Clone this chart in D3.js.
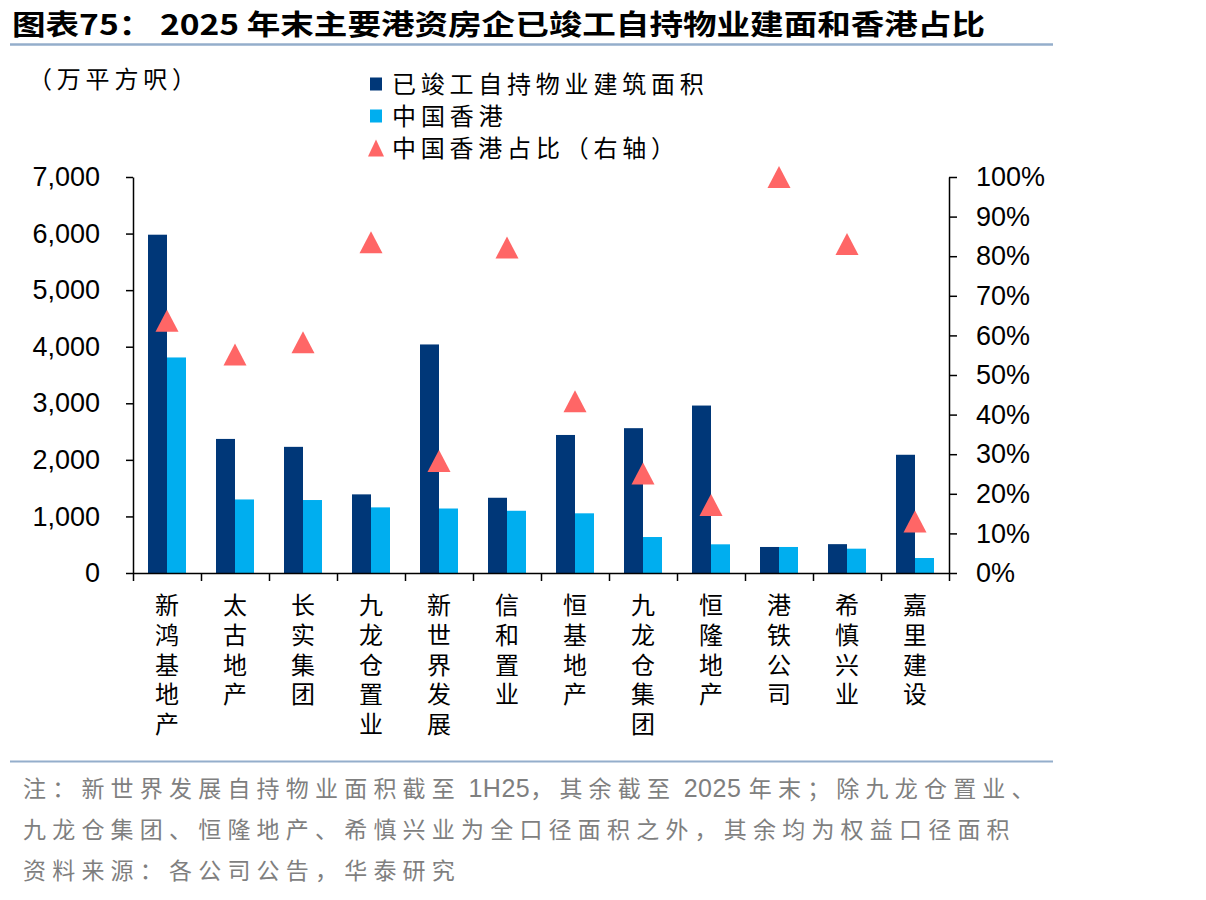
<!DOCTYPE html>
<html>
<head>
<meta charset="utf-8">
<script src="https://cdn.jsdelivr.net/npm/d3@7"></script>
<style>
  body { margin: 0; background: #fff; }
  svg { display: block; }
  .cn { font-family: "Noto Sans CJK SC", sans-serif; }
  .num { font-family: "Liberation Sans", Arial, sans-serif; }
</style>
</head>
<body>
<div id="chart"></div>
<script>
// categories and values
const categories = ["新鸿基地产", "太古地产", "长实集团", "九龙仓置业", "新世界发展", "信和置业",
                    "恒基地产", "九龙仓集团", "恒隆地产", "港铁公司", "希慎兴业", "嘉里建设"];
// 已竣工自持物业建筑面积 (万平方呎)
const totalArea = [5980, 2370, 2230, 1390, 4040, 1330, 2440, 2560, 2960, 460, 510, 2090];
// 中国香港 (万平方呎)
const hkArea = [3810, 1300, 1290, 1160, 1140, 1100, 1055, 636, 507, 460, 430, 265];
// 中国香港占比 (%)
const hkShare = [63.7, 55.2, 58.3, 83.5, 28.3, 82.2, 43.4, 25.1, 17.2, 100, 83.1, 13.0];

const leftTicks = [0, 1000, 2000, 3000, 4000, 5000, 6000, 7000];
const rightTicks = [0, 10, 20, 30, 40, 50, 60, 70, 80, 90, 100];
const legendLabels = ["已竣工自持物业建筑面积", "中国香港", "中国香港占比（右轴）"];
const titleText = "图表75：  2025 年末主要港资房企已竣工自持物业建面和香港占比";
const unitText = "（万平方呎）";
const notes = [
    "注：新世界发展自持物业面积截至 1H25，其余截至 2025 年末；除九龙仓置业、",
    "九龙仓集团、恒隆地产、希慎兴业为全口径面积之外，其余均为权益口径面积",
    "资料来源：各公司公告，华泰研究"
];

const colors = {total: "#003778", hk: "#00AEEF", share: "#FF6666"};

const width = 1206, height = 900;
const margin = {top: 177, right: 257, bottom: 327, left: 133};

const svg = d3.select("#chart").append("svg")
    .attr("width", width)
    .attr("height", height);

// title and its rule
svg.append("text")
    .attr("class", "cn")
    .attr("x", 12)
    .attr("y", 35)
    .attr("font-size", 28)
    .attr("font-weight", 700)
    .attr("textLength", 973)
    .attr("lengthAdjust", "spacingAndGlyphs")
    .text(titleText);

svg.append("line")
    .attr("x1", 10).attr("x2", 1053)
    .attr("y1", 44.5).attr("y2", 44.5)
    .attr("stroke", "#94AECB")
    .attr("stroke-width", 2.5);

// scales
const x = d3.scaleBand()
    .domain(categories)
    .range([margin.left, width - margin.right])
    .paddingInner(0)
    .paddingOuter(0);

const xSub = d3.scaleBand()
    .domain(["total", "hk"])
    .range([0, x.bandwidth()])
    .paddingInner(0)
    .paddingOuter(0.79);

const yLeft = d3.scaleLinear()
    .domain([0, 7000])
    .range([height - margin.bottom, margin.top]);

const yRight = d3.scaleLinear()
    .domain([0, 100])
    .range([height - margin.bottom, margin.top]);

// bars
const rows = categories.map((c, i) => ({name: c, total: totalArea[i], hk: hkArea[i], share: hkShare[i]}));

const groups = svg.selectAll(".grp")
    .data(rows)
    .enter()
    .append("g")
    .attr("transform", d => `translate(${x(d.name)},0)`);

groups.append("rect")
    .attr("x", xSub("total"))
    .attr("width", xSub.bandwidth())
    .attr("y", d => yLeft(d.total))
    .attr("height", d => yLeft(0) - yLeft(d.total))
    .attr("fill", colors.total);

groups.append("rect")
    .attr("x", xSub("hk"))
    .attr("width", xSub.bandwidth())
    .attr("y", d => yLeft(d.hk))
    .attr("height", d => yLeft(0) - yLeft(d.hk))
    .attr("fill", colors.hk);

// triangle markers (right axis)
function triangle(cx, cy, w, h) {
    return `M${cx},${cy - h / 2}L${cx + w / 2},${cy + h / 2}L${cx - w / 2},${cy + h / 2}Z`;
}

svg.selectAll(".tri")
    .data(rows)
    .enter()
    .append("path")
    .attr("d", d => triangle(x(d.name) + x.bandwidth() / 2, yRight(d.share), 23, 22))
    .attr("fill", colors.share);

// left axis
svg.append("g")
    .attr("transform", `translate(${margin.left},0)`)
    .call(d3.axisLeft(yLeft).tickValues(leftTicks).tickSize(7).tickSizeOuter(0)
        .tickPadding(26).tickFormat(d3.format(",")))
    .call(g => g.select(".domain").attr("stroke", "#000").attr("stroke-width", 1.5))
    .call(g => g.selectAll(".tick line").attr("stroke", "#000").attr("stroke-width", 1.5))
    .call(g => g.selectAll(".tick text")
        .attr("class", "num")
        .attr("font-size", 27)
        .attr("fill", "#000"));

// right axis
svg.append("g")
    .attr("transform", `translate(${width - margin.right},0)`)
    .call(d3.axisRight(yRight).tickValues(rightTicks).tickSize(8).tickSizeOuter(0)
        .tickPadding(19).tickFormat(d => d + "%"))
    .call(g => g.select(".domain").attr("stroke", "#000").attr("stroke-width", 1.5))
    .call(g => g.selectAll(".tick line").attr("stroke", "#000").attr("stroke-width", 1.5))
    .call(g => g.selectAll(".tick text")
        .attr("class", "num")
        .attr("font-size", 27)
        .attr("fill", "#000"));

// bottom axis: ticks at the category boundaries
const xEdge = d3.scaleLinear()
    .domain([0, categories.length])
    .range([margin.left, width - margin.right]);

svg.append("g")
    .attr("transform", `translate(0,${height - margin.bottom})`)
    .call(d3.axisBottom(xEdge).tickValues(d3.range(categories.length + 1))
        .tickSize(8).tickSizeOuter(0).tickFormat(""))
    .call(g => g.select(".domain").attr("stroke", "#000").attr("stroke-width", 1.5))
    .call(g => g.selectAll(".tick line").attr("stroke", "#000").attr("stroke-width", 1.5));

// vertical category labels (one text each, written top to bottom)
svg.selectAll(".cat")
    .data(categories)
    .enter()
    .append("text")
    .attr("class", "cn")
    .attr("x", d => x(d) + x.bandwidth() / 2)
    .attr("y", 593)
    .attr("writing-mode", "vertical-rl")
    .style("letter-spacing", "5.7px")
    .attr("font-size", 24)
    .attr("fill", "#000")
    .text(d => d);

// unit label
svg.append("text")
    .attr("class", "cn")
    .attr("x", 28)
    .attr("y", 88)
    .attr("font-size", 24)
    .attr("textLength", 168)
    .attr("lengthAdjust", "spacing")
    .text(unitText);

// legend
const legend = svg.append("g").attr("transform", "translate(370,0)");
const legendY = [84, 116, 148];

legend.append("rect")
    .attr("x", 0).attr("y", legendY[0] - 6.5)
    .attr("width", 12).attr("height", 13)
    .attr("fill", colors.total);

legend.append("rect")
    .attr("x", 0).attr("y", legendY[1] - 6.5)
    .attr("width", 12).attr("height", 13)
    .attr("fill", colors.hk);

legend.append("path")
    .attr("d", triangle(6, legendY[2], 16, 17))
    .attr("fill", colors.share);

legend.selectAll(".lt")
    .data(legendLabels)
    .enter()
    .append("text")
    .attr("class", "cn")
    .attr("x", 22)
    .attr("y", (d, i) => legendY[i] + 9)
    .attr("font-size", 24)
    .attr("textLength", d => d.length * 28.7 - 4)
    .attr("lengthAdjust", "spacing")
    .text(d => d);

// footnote rule and notes: CJK runs spaced out, latin runs kept tight
svg.append("line")
    .attr("x1", 10).attr("x2", 1053)
    .attr("y1", 761.5).attr("y2", 761.5)
    .attr("stroke", "#94AECB")
    .attr("stroke-width", 2);

const noteText = svg.selectAll(".note")
    .data(notes)
    .enter()
    .append("text")
    .attr("x", 23)
    .attr("y", (d, i) => 797 + i * 41)
    .attr("fill", "#7F7F7F");

noteText.selectAll("tspan")
    .data(d => d.match(/[\x00-\x7F]+|[^\x00-\x7F]+/g))
    .enter()
    .append("tspan")
    .attr("class", d => /^[\x00-\x7F]+$/.test(d) ? "num" : "cn")
    .attr("font-size", d => /^[\x00-\x7F]+$/.test(d) ? 25 : 23)
    .style("letter-spacing", d => /^[\x00-\x7F]+$/.test(d) ? "0.5px" : "6.2px")
    .text(d => d);
</script>
</body>
</html>
